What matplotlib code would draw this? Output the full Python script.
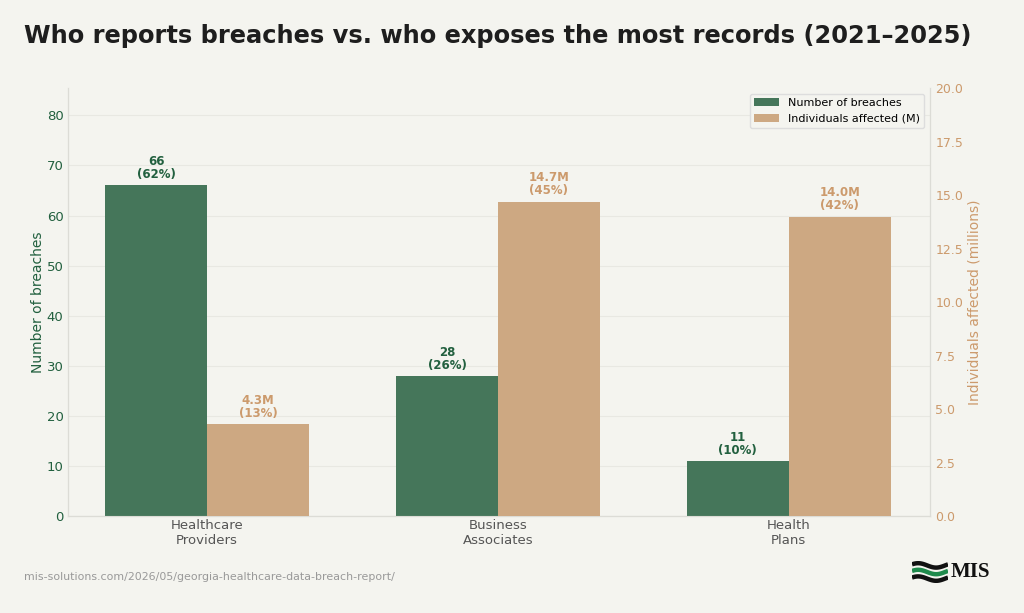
import numpy as np
import matplotlib
matplotlib.use("Agg")
import matplotlib.pyplot as plt

categories = ["Healthcare\nProviders", "Business\nAssociates", "Health\nPlans"]
breaches = [66, 28, 11]
breach_pct = [62, 26, 10]
people_m = [4.3, 14.7, 14.0]
people_pct = [13, 45, 42]

BG, GREEN, TAN = "#f4f4ef", "#45765a", "#cda882"
GREEN_TXT, TAN_TXT, GRID = "#22603f", "#cc9a6c", "#e8e8e2"

plt.rcParams.update({"font.family": "DejaVu Sans"})
fig = plt.figure(figsize=(10.24, 6.13), dpi=100)
fig.patch.set_facecolor(BG)
ax = fig.add_axes([0.066, 0.158, 0.842, 0.698])
ax.set_facecolor(BG)
ax2 = ax.twinx()

x = np.arange(len(categories))
w = 0.35
ax.bar(x - w / 2, breaches, w, color=GREEN, label="Number of breaches", zorder=3)
ax2.bar(x + w / 2, people_m, w, color=TAN, label="Individuals affected (M)", zorder=3)

ax.set_ylim(0, 85.4)
ax2.set_ylim(0, 20)
ax.set_xlim(-0.48, 2.485)
ax.set_yticks(range(0, 90, 10))
ax2.set_yticks(np.arange(0, 20.1, 2.5))
ax.grid(axis="y", color=GRID, lw=0.8, zorder=0)
ax.set_axisbelow(True)

for xi, v, p in zip(x, breaches, breach_pct):
    ax.text(xi - w / 2, v + 0.8, f"{v}\n({p}%)", ha="center", va="bottom",
            color=GREEN_TXT, fontsize=8.5, fontweight="bold", linespacing=1.0)
for xi, v, p in zip(x, people_m, people_pct):
    ax2.text(xi + w / 2, v + 0.2, f"{v:.1f}M\n({p}%)", ha="center", va="bottom",
             color=TAN_TXT, fontsize=8.5, fontweight="bold", linespacing=1.0)

ax.set_xticks(x)
ax.set_xticklabels(categories, fontsize=9.5, color="#555555", linespacing=1.2)
ax.tick_params(axis="x", length=0, pad=2)
ax.tick_params(axis="y", colors=GREEN_TXT, labelsize=9.5, length=0, pad=3)
ax2.tick_params(axis="y", colors=TAN_TXT, labelsize=9, length=0, pad=4)
ax.set_ylabel("Number of breaches", color=GREEN_TXT, fontsize=10, labelpad=1)
ax2.set_ylabel("Individuals affected (millions)", color=TAN_TXT, fontsize=10, labelpad=3)
for a in (ax, ax2):
    for s in a.spines.values():
        s.set_color("#dcdcd6")
    a.spines["top"].set_visible(False)

h1, l1 = ax.get_legend_handles_labels()
h2, l2 = ax2.get_legend_handles_labels()
ax2.legend(h1 + h2, l1 + l2, loc="upper right", fontsize=8, facecolor=BG,
           edgecolor="#dddddd", framealpha=1, fancybox=True, handlelength=2.2)

fig.text(0.023, 0.942, "Who reports breaches vs. who exposes the most records (2021\u20132025)",
         fontsize=17.4, fontweight="bold", color="#1e1e1e", va="center")
fig.text(0.023, 0.059, "mis-solutions.com/2026/05/georgia-healthcare-data-breach-report/",
         fontsize=7.9, color="#999999", va="center")

# logo
lax = fig.add_axes([912 / 1024, 30 / 613, 36 / 1024, 22 / 613])
lax.axis("off")
t = np.linspace(0, 1, 60)
for off, col in [(0.8, "#111111"), (0.5, "#1f8a4c"), (0.2, "#111111")]:
    lax.plot(t, off + 0.1 * np.sin(2 * np.pi * t + 0.5), color=col, lw=3.2,
             solid_capstyle="butt")
lax.set_xlim(0, 1)
lax.set_ylim(0, 1)
fig.text(951 / 1024, 1 - 572 / 613, "MIS", fontsize=15, fontweight="bold",
         family="Liberation Serif", color="#111111", va="center")

fig.savefig("out.png", facecolor=BG)
